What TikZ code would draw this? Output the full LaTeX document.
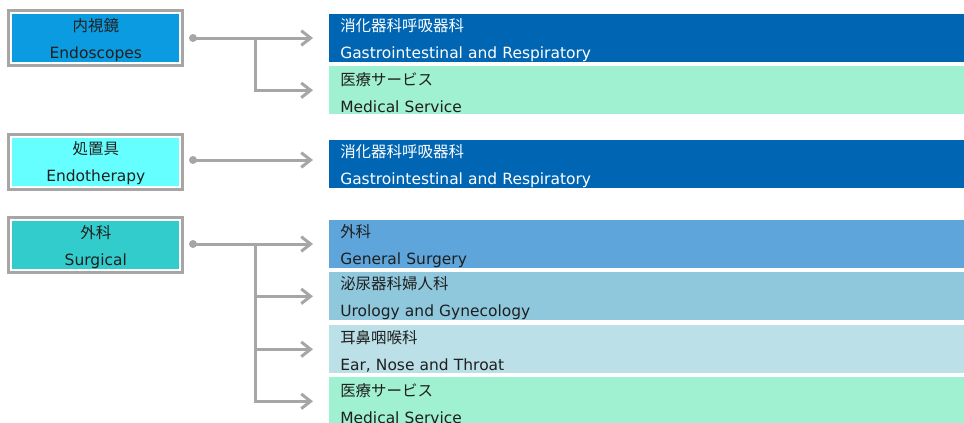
\documentclass[tikz,border=0pt]{standalone}
\usepackage{fontspec}
\setmainfont{DejaVu Sans}
\newfontfamily\jpfont{Noto Sans CJK JP}
\usetikzlibrary{arrows.meta}

\definecolor{endoBlue}{HTML}{0A9BE0}
\definecolor{therapyCyan}{HTML}{66FFFF}
\definecolor{surgTeal}{HTML}{33CCCC}
\definecolor{giBlue}{HTML}{0066B3}
\definecolor{medMint}{HTML}{A0F0D2}
\definecolor{genBlue}{HTML}{5DA5DA}
\definecolor{uroBlue}{HTML}{8FC8DC}
\definecolor{entBlue}{HTML}{BBE0E8}
\definecolor{lineGray}{HTML}{A6A6A6}

\tikzset{
    unit/.style={fill=#1, draw=white, line width=1.5pt,
        preaction={draw=lineGray, line width=6pt},
        minimum width=126.75pt, minimum height=37.5pt, inner sep=0pt,
        align=center, text=black!88, font=\fontsize{11.6}{20.25}\selectfont,
        text height=32.8pt},
    field/.style={fill=#1, anchor=north west, inner xsep=8.25pt, inner ysep=0pt,
        minimum width=480pt, minimum height=36pt, text width=463.5pt,
        align=left, text=black!88, font=\fontsize{11.6}{20.25}\selectfont,
        execute at begin node={\rule{0pt}{13.2pt}}},
    link/.style={lineGray, line width=2.25pt, shorten >=12pt,
        -{Straight Barb[length=7pt,width=11pt]}},
    knob/.style={fill=lineGray}
}

\begin{document}
\begin{tikzpicture}[x=0.75pt, y=-0.75pt]
    \useasboundingbox (0,0) rectangle (964,422);

    % variables
    \def\unitX{95.8}
    \def\fieldX{329}
    \def\dotX{193}
    \def\forkX{255}

    % Divisions
    \node[unit=endoBlue] (endo) at (\unitX, 38) {{\jpfont 内視鏡}\\Endoscopes};
    \node[unit=therapyCyan] (therapy) at (\unitX, 161.5) {{\jpfont 処置具}\\Endotherapy};
    \node[unit=surgTeal] (surg) at (\unitX, 245) {{\jpfont 外科}\\Surgical};

    % Fields
    \node[field=giBlue, text=white] (gi1) at (\fieldX, 14) {{\jpfont 消化器科呼吸器科}\\Gastrointestinal and Respiratory};
    \node[field=medMint] (med1) at (\fieldX, 66) {{\jpfont 医療サービス}\\Medical Service};
    \node[field=giBlue, text=white] (gi2) at (\fieldX, 140) {{\jpfont 消化器科呼吸器科}\\Gastrointestinal and Respiratory};
    \node[field=genBlue] (gen) at (\fieldX, 220) {{\jpfont 外科}\\General Surgery};
    \node[field=uroBlue] (uro) at (\fieldX, 272) {{\jpfont 泌尿器科婦人科}\\Urology and Gynecology};
    \node[field=entBlue] (ent) at (\fieldX, 325) {{\jpfont 耳鼻咽喉科}\\Ear, Nose and Throat};
    \node[field=medMint] (med2) at (\fieldX, 377) {{\jpfont 医療サービス}\\Medical Service};

    % Connector points
    \coordinate (endoDot) at (\dotX, 38);
    \coordinate (endoFork) at (\forkX, 38);
    \coordinate (therapyDot) at (\dotX, 160);
    \coordinate (surgDot) at (\dotX, 244);
    \coordinate (surgFork) at (\forkX, 244);

    % Connectors
    \draw[link] (endoDot) -- (endoDot -| gi1.west);
    \draw[link] (endoFork) |- (med1.west);
    \draw[link] (therapyDot) -- (therapyDot -| gi2.west);
    \draw[link] (surgDot) -- (surgDot -| gen.west);
    \draw[link] (surgFork) |- (uro.west);
    \draw[link] (surgFork) |- (ent.west);
    \draw[link] (surgFork) |- (med2.west);

    % Dots
    \fill[knob] (endoDot) circle (3pt);
    \fill[knob] (therapyDot) circle (3pt);
    \fill[knob] (surgDot) circle (3pt);
\end{tikzpicture}
\end{document}
